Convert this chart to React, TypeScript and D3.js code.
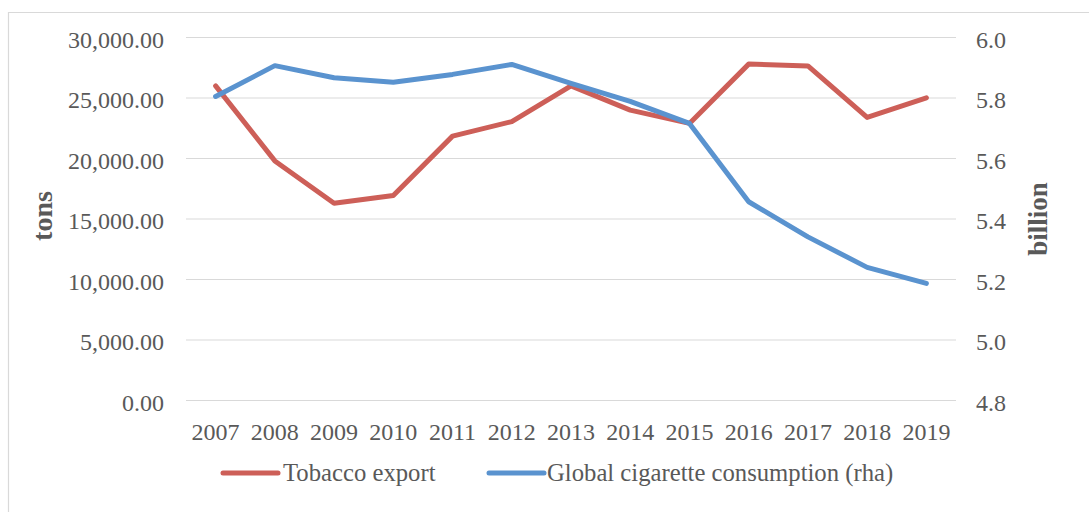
import React from "react";
import * as d3 from "d3";

const years = ["2007","2008","2009","2010","2011","2012","2013","2014","2015","2016","2017","2018","2019"];
const tobaccoExport = [26000, 19800, 16300, 16950, 21850, 23050, 26000, 24000, 22900, 27800, 27650, 23400, 25020];
const cigaretteConsumption = [5.805, 5.907, 5.867, 5.852, 5.878, 5.911, 5.848, 5.789, 5.716, 5.457, 5.341, 5.240, 5.187];
const leftTicks = [0, 5000, 10000, 15000, 20000, 25000, 30000];
const rightTicks = [4.8, 5.0, 5.2, 5.4, 5.6, 5.8, 6.0];
const seriesNames = ["Tobacco export", "Global cigarette consumption (rha)"];

const RED = "#CD5F58";
const BLUE = "#5A93CF";
const TEXT = "#595959";
const GRID = "#D9D9D9";
const FONT = "'Liberation Serif', 'Times New Roman', serif";

export default function App() {
  const W = 1089, H = 512;
  const left = 186, right = 956, top = 37.5, bottom = 400.5;
  const x = d3.scaleBand<string>().domain(years).range([left, right]);
  const yL = d3.scaleLinear().domain([0, 30000]).range([bottom, top]);
  const yR = d3.scaleLinear().domain([4.8, 6.0]).range([bottom, top]);
  const cx = (y: string) => (x(y) as number) + x.bandwidth() / 2;
  const lineL = d3.line<number>().x((_, i) => cx(years[i])).y((d) => yL(d));
  const lineR = d3.line<number>().x((_, i) => cx(years[i])).y((d) => yR(d));
  const fmtL = d3.format(",.2f");
  const fmtR = d3.format(".1f");

  return (
    <svg width={W} height={H} style={{ position: "absolute", left: 0, top: 0 }} fontFamily={FONT}>
      <rect x={0} y={0} width={W} height={H} fill="#fff" />
      <path d={`M8.5,${H + 5}V12.5H${W + 5}`} fill="none" stroke={GRID} strokeWidth={1.2} />
      {leftTicks.map((t) => (
        <line key={"g" + t} x1={left} x2={right} y1={yL(t)} y2={yL(t)} stroke={GRID} strokeWidth={1.2} />
      ))}
      {leftTicks.map((t) => (
        <text key={"l" + t} x={164} y={yL(t) + 10} textAnchor="end" fontSize={24} fill={TEXT}>{fmtL(t)}</text>
      ))}
      {rightTicks.map((t) => (
        <text key={"r" + t} x={976} y={yR(t) + 10} textAnchor="start" fontSize={24} fill={TEXT}>{fmtR(t)}</text>
      ))}
      {years.map((yv) => (
        <text key={"x" + yv} x={cx(yv)} y={440} textAnchor="middle" fontSize={24} fill={TEXT}>{yv}</text>
      ))}
      <text transform={`translate(52,${(top + bottom) / 2 - 3}) rotate(-90)`} textAnchor="middle" fontSize={28} fontWeight="bold" fill={TEXT}>tons</text>
      <text transform={`translate(1047,${(top + bottom) / 2}) rotate(-90)`} textAnchor="middle" fontSize={27} fontWeight="bold" fill={TEXT}>billion</text>
      <path d={lineL(tobaccoExport) || ""} fill="none" stroke={RED} strokeWidth={5} strokeLinejoin="round" strokeLinecap="round" />
      <path d={lineR(cigaretteConsumption) || ""} fill="none" stroke={BLUE} strokeWidth={5} strokeLinejoin="round" strokeLinecap="round" />
      <line x1={223} x2={278} y1={473} y2={473} stroke={RED} strokeWidth={5} strokeLinecap="round" />
      <text x={283} y={481} fontSize={24.7} fill={TEXT}>{seriesNames[0]}</text>
      <line x1={489} x2={544} y1={473} y2={473} stroke={BLUE} strokeWidth={5} strokeLinecap="round" />
      <text x={547} y={481} fontSize={24.7} fill={TEXT}>{seriesNames[1]}</text>
    </svg>
  );
}
